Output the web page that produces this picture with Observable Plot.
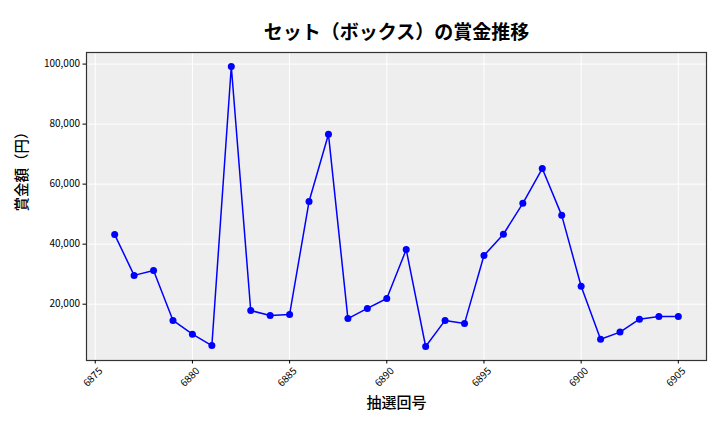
<!DOCTYPE html>
<html>
<head>
<meta charset="utf-8">
<script src="https://cdn.jsdelivr.net/npm/d3@7"></script>
<script src="https://cdn.jsdelivr.net/npm/@observablehq/plot@0.6"></script>
<style>
  html, body { margin: 0; padding: 0; background: #fff; }
  #chart { width: 720px; height: 432px; }
</style>
</head>
<body>
<div id="chart"></div>
<script>
const titleText = "セット（ボックス）の賞金推移";
const xLabel = "抽選回号";
const yLabel = "賞金額（円）";

const draws = [6876, 6877, 6878, 6879, 6880, 6881, 6882, 6883, 6884, 6885,
               6886, 6887, 6888, 6889, 6890, 6891, 6892, 6893, 6894, 6895,
               6896, 6897, 6898, 6899, 6900, 6901, 6902, 6903, 6904, 6905];
const prizes = [43200, 29600, 31200, 14600, 10000, 6200, 99200, 17900, 16200, 16600,
                54200, 76600, 15200, 18600, 21900, 38200, 5900, 14600, 13600, 36200,
                43300, 53600, 65200, 49600, 26000, 8300, 10700, 15000, 15900, 15900];
const xTicks = [6875, 6880, 6885, 6890, 6895, 6900, 6905];
const yTicks = [20000, 40000, 60000, 80000, 100000];

const data = draws.map((d, i) => ({draw: d, prize: prizes[i]}));
const font = "'Noto Sans CJK JP', 'Noto Sans', sans-serif";

const chart = Plot.plot({
  width: 720,
  height: 432,
  marginLeft: 86,
  marginRight: 14,
  marginTop: 52,
  marginBottom: 72,
  style: {fontFamily: font, fontSize: "10px", color: "#000", background: "#fff"},
  x: {domain: [6874.55, 6906.45]},
  y: {domain: [1240, 103860]},
  marks: [
    Plot.frame({fill: "#eeeeee", stroke: null}),
    Plot.gridX(xTicks, {stroke: "#fff", strokeOpacity: 1, strokeWidth: 1}),
    Plot.gridY(yTicks, {stroke: "#fff", strokeOpacity: 1, strokeWidth: 1}),
    Plot.frame({stroke: "#333", strokeWidth: 1.2}),
    Plot.axisY({ticks: yTicks, tickFormat: d3.format(","), label: null, tickSize: 3.5, tickPadding: 3, fontSize: 10}),
    Plot.axisX({ticks: xTicks, tickFormat: () => "", label: null, tickSize: 3.5}),
    Plot.text(xTicks, {x: d => d, text: d => String(d), frameAnchor: "bottom", dy: 19, rotate: -45, textAnchor: "middle", fontSize: 10, fill: "#000"}),
    Plot.line(data, {x: "draw", y: "prize", stroke: "#0000ff", strokeWidth: 1.5}),
    Plot.dot(data, {x: "draw", y: "prize", fill: "#0000ff", r: 3.5}),
    Plot.text([titleText], {text: d => d, frameAnchor: "top", dy: -27, fontSize: 19, fontWeight: "bold", fill: "#000"}),
    Plot.text([xLabel], {text: d => d, frameAnchor: "bottom", dy: 47, fontSize: 15, fontWeight: 500, fill: "#000"}),
    Plot.text([yLabel], {text: d => d, frameAnchor: "left", dx: -64, dy: 5, rotate: -90, fontSize: 14.5, fontWeight: 500, fill: "#000"})
  ]
});
document.getElementById("chart").appendChild(chart);
</script>
</body>
</html>
